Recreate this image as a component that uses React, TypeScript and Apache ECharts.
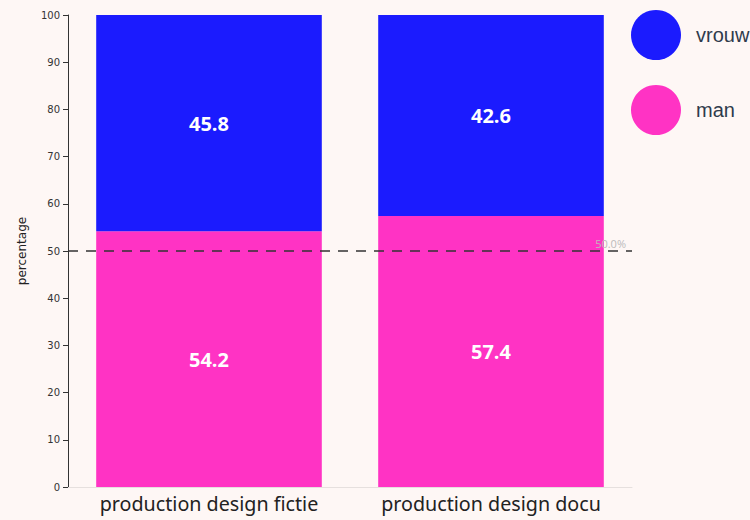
import React, { useEffect, useRef } from "react";
import * as echarts from "echarts";

const categories = ["production design fictie", "production design docu"];
const manValues = [54.2, 57.4];
const vrouwValues = [45.8, 42.6];
const yTicks = [0, 10, 20, 30, 40, 50, 60, 70, 80, 90, 100];
const referenceLine = 50;

export default function App() {
  const ref = useRef<HTMLDivElement>(null);
  useEffect(() => {
    if (!ref.current) return;
    const chart = echarts.init(ref.current, null, { renderer: "svg" });
    const labelStyle = {
      show: true,
      position: "inside",
      color: "#ffffff",
      opacity: 1,
      fontSize: 20,
      fontWeight: "bold",
      fontFamily: "Open Sans",
      formatter: (p: any) => p.value.toFixed(1),
    };
    chart.setOption({
      animation: false,
      backgroundColor: "#FEF7F5",
      grid: { left: 68, right: 118, top: 15, bottom: 33 },
      legend: {
        orient: "vertical",
        left: 631,
        top: 10,
        padding: 0,
        itemWidth: 50,
        itemHeight: 50,
        itemGap: 25,
        icon: "circle",
        data: ["vrouw", "man"],
        textStyle: {
          fontSize: 20,
          color: "#2f3b4c",
          fontFamily: "Liberation Sans",
          padding: [0, 0, 0, 10],
        },
      },
      xAxis: {
        type: "category",
        data: categories,
        axisLine: { show: true, lineStyle: { color: "#e6e0de", width: 1 } },
        axisTick: { show: false },
        axisLabel: {
          interval: 0,
          hideOverlap: false,
          color: "#222",
          fontSize: 19.7,
          fontFamily: "Noto Sans",
          margin: 6,
        },
      },
      yAxis: {
        type: "value",
        min: 0,
        max: 100,
        interval: 10,
        name: "percentage",
        nameLocation: "middle",
        nameGap: 40,
        nameTextStyle: { color: "#222", fontSize: 12, fontFamily: "DejaVu Sans" },
        axisLine: { show: true, lineStyle: { color: "#333", width: 1 } },
        axisTick: { show: true, length: 5, lineStyle: { color: "#333" } },
        splitLine: { show: false },
        axisLabel: {
          color: "#333",
          fontSize: 10,
          fontFamily: "DejaVu Sans",
          margin: 8,
          formatter: (v: number) => (yTicks.includes(v) ? String(v) : ""),
        },
      },
      series: [
        {
          name: "ref",
          type: "line",
          data: [],
          z: 1,
          markLine: {
            silent: true,
            symbol: "none",
            lineStyle: { color: "#333", type: [10, 8], width: 1.5 },
            label: {
              show: true,
              position: "insideEndTop",
              formatter: "50.0%",
              color: "#bbbbbb",
              fontSize: 11,
              fontFamily: "Open Sans",
              distance: [6, 2],
            },
            data: [{ yAxis: referenceLine }],
          },
        },
        {
          name: "man",
          type: "bar",
          stack: "total",
          barWidth: "80%",
          z: 2,
          itemStyle: { color: "#FF1DBF", opacity: 0.9 },
          label: labelStyle,
          data: manValues,
        },
        {
          name: "vrouw",
          type: "bar",
          stack: "total",
          barWidth: "80%",
          z: 2,
          itemStyle: { color: "#0202FF", opacity: 0.9 },
          label: labelStyle,
          data: vrouwValues,
        },
      ],
    });
    return () => chart.dispose();
  }, []);
  return <div ref={ref} style={{ width: 750, height: 520, position: "absolute", left: 0, top: 0 }} />;
}
